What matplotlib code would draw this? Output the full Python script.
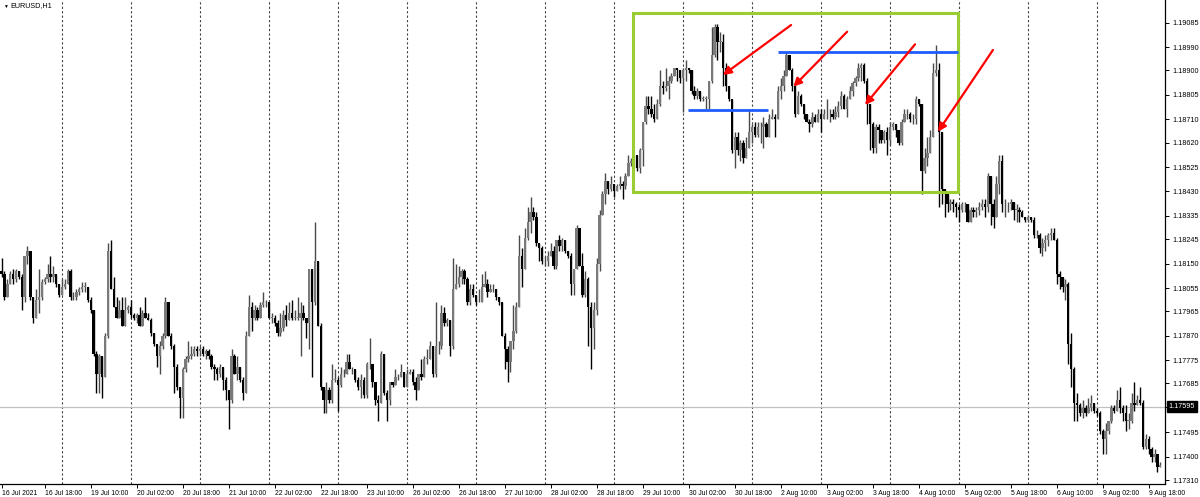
import numpy as np
import pandas as pd
import matplotlib.pyplot as plt
from matplotlib.patches import Rectangle
import matplotlib.transforms as mtransforms

plt.rcParams['font.family'] = ['Liberation Sans', 'DejaVu Sans']

# EURUSD H1 bars, 16 Jul 2021 03:00 .. 9 Aug 2021 22:00 (one row per trading day)
open0 = 1.1812
closes = [
    1.1811, 1.1802, 1.1807, 1.1811, 1.1809, 1.1812, 1.1810, 1.1802, 1.1818, 1.1820, 1.1802, 1.1794, 1.1801, 1.1802, 1.1808, 1.1809, 1.1811, 1.1810, 1.1811, 1.1807, 1.1803,
    1.1806, 1.1807, 1.1812, 1.1802, 1.1802, 1.1804, 1.1805, 1.1806, 1.1806, 1.1801, 1.1797, 1.1780, 1.1772, 1.1779, 1.1771, 1.1787, 1.1820, 1.1805, 1.1798, 1.1794, 1.1797, 1.1791, 1.1797, 1.1798,
    1.1795, 1.1794, 1.1795, 1.1791, 1.1796, 1.1794, 1.1793, 1.1788, 1.1784, 1.1779, 1.1783, 1.1787, 1.1800, 1.1787, 1.1783, 1.1775, 1.1767, 1.1763, 1.1774, 1.1778, 1.1779, 1.1780, 1.1782, 1.1781,
    1.1782, 1.1780, 1.1781, 1.1779, 1.1775, 1.1774, 1.1772, 1.1775, 1.1770, 1.1766, 1.1762, 1.1779, 1.1772, 1.1775, 1.1770, 1.1765, 1.1787, 1.1798, 1.1794, 1.1797, 1.1794, 1.1799, 1.1800, 1.1800,
    1.1794, 1.1794, 1.1792, 1.1788, 1.1790, 1.1795, 1.1793, 1.1796, 1.1794, 1.1794, 1.1794, 1.1796, 1.1794, 1.1792, 1.1813, 1.1800, 1.1816, 1.1791, 1.1767, 1.1762, 1.1766, 1.1762, 1.1770, 1.1770,
    1.1768, 1.1772, 1.1772, 1.1777, 1.1774, 1.1774, 1.1770, 1.1767, 1.1770, 1.1764, 1.1776, 1.1776, 1.1769, 1.1762, 1.1761, 1.1780, 1.1765, 1.1762, 1.1769, 1.1768, 1.1771, 1.1771, 1.1773, 1.1767,
    1.1772, 1.1773, 1.1769, 1.1766, 1.1772, 1.1771, 1.1778, 1.1778, 1.1783, 1.1772, 1.1783, 1.1783, 1.1796, 1.1792, 1.1793, 1.1783, 1.1805, 1.1807, 1.1810, 1.1812, 1.1809, 1.1800, 1.1805, 1.1803,
    1.1800, 1.1800, 1.1806, 1.1807, 1.1804, 1.1805, 1.1805, 1.1802, 1.1800, 1.1787, 1.1782, 1.1777, 1.1785, 1.1789, 1.1798, 1.1818, 1.1813, 1.1825, 1.1831, 1.1835, 1.1833, 1.1823, 1.1821, 1.1816,
    1.1816, 1.1818, 1.1820, 1.1814, 1.1824, 1.1822, 1.1824, 1.1820, 1.1818, 1.1807, 1.1813, 1.1829, 1.1814, 1.1803, 1.1809, 1.1798, 1.1790, 1.1797, 1.1815, 1.1834, 1.1842, 1.1847, 1.1844, 1.1846,
    1.1843, 1.1845, 1.1846, 1.1845, 1.1849, 1.1854, 1.1855, 1.1857, 1.1852, 1.1859, 1.1870, 1.1876, 1.1875, 1.1873, 1.1871, 1.1877, 1.1884, 1.1883, 1.1884, 1.1886, 1.1888, 1.1891, 1.1890, 1.1887,
    1.1890, 1.1891, 1.1890, 1.1882, 1.1880, 1.1882, 1.1879, 1.1879, 1.1879, 1.1886, 1.1896, 1.1907, 1.1901, 1.1901, 1.1891, 1.1884, 1.1879, 1.1859, 1.1864, 1.1859, 1.1862, 1.1856, 1.1860, 1.1866,
    1.1868, 1.1865, 1.1868, 1.1868, 1.1869, 1.1864, 1.1871, 1.1872, 1.1871, 1.1882, 1.1884, 1.1888, 1.1896, 1.1890, 1.1884, 1.1873, 1.1880, 1.1877, 1.1873, 1.1870, 1.1869, 1.1872, 1.1870, 1.1873,
    1.1871, 1.1873, 1.1873, 1.1873, 1.1872, 1.1874, 1.1876, 1.1880, 1.1875, 1.1879, 1.1882, 1.1885, 1.1887, 1.1891, 1.1892, 1.1886, 1.1877, 1.1869, 1.1860, 1.1868, 1.1867, 1.1863, 1.1866, 1.1863,
    1.1868, 1.1869, 1.1867, 1.1862, 1.1870, 1.1873, 1.1873, 1.1871, 1.1871, 1.1879, 1.1877, 1.1851, 1.1856, 1.1858, 1.1864, 1.1889, 1.1890, 1.1866, 1.1844, 1.1842, 1.1838, 1.1839, 1.1838, 1.1837,
    1.1836, 1.1838, 1.1838, 1.1831, 1.1836, 1.1835, 1.1836, 1.1837, 1.1838, 1.1837, 1.1849, 1.1838, 1.1833, 1.1846, 1.1855, 1.1838, 1.1838, 1.1838, 1.1839, 1.1836, 1.1836, 1.1835, 1.1833, 1.1832,
    1.1833, 1.1832, 1.1826, 1.1826, 1.1821, 1.1823, 1.1824, 1.1826, 1.1827, 1.1824, 1.1811, 1.1810, 1.1806, 1.1807, 1.1784, 1.1774, 1.1761, 1.1760, 1.1757, 1.1759, 1.1757, 1.1759, 1.1761, 1.1758,
    1.1757, 1.1750, 1.1747, 1.1750, 1.1754, 1.1759, 1.1758, 1.1762, 1.1759, 1.1757, 1.1754, 1.1754, 1.1761, 1.1760, 1.1762, 1.1761, 1.1744, 1.1747, 1.1743, 1.1740, 1.1741, 1.1736, 1.1737,
]
highs = [
    1.1817, 1.1812, 1.1809, 1.1812, 1.1813, 1.1813, 1.1811, 1.1811, 1.1818, 1.1822, 1.1820, 1.1802, 1.1805, 1.1813, 1.1809, 1.1810, 1.1815, 1.1818, 1.1814, 1.1811, 1.1807,
    1.1809, 1.1809, 1.1813, 1.1813, 1.1804, 1.1805, 1.1806, 1.1808, 1.1808, 1.1806, 1.1802, 1.1797, 1.1781, 1.1780, 1.1779, 1.1788, 1.1823, 1.1824, 1.1810, 1.1802, 1.1801, 1.1802, 1.1802, 1.1799,
    1.1801, 1.1796, 1.1796, 1.1798, 1.1797, 1.1802, 1.1796, 1.1794, 1.1788, 1.1784, 1.1785, 1.1788, 1.1802, 1.1800, 1.1788, 1.1784, 1.1776, 1.1767, 1.1775, 1.1779, 1.1785, 1.1783, 1.1783, 1.1783,
    1.1783, 1.1783, 1.1782, 1.1782, 1.1780, 1.1776, 1.1775, 1.1776, 1.1775, 1.1771, 1.1766, 1.1782, 1.1780, 1.1779, 1.1773, 1.1771, 1.1789, 1.1803, 1.1800, 1.1799, 1.1798, 1.1800, 1.1804, 1.1801,
    1.1800, 1.1796, 1.1795, 1.1793, 1.1796, 1.1797, 1.1799, 1.1800, 1.1801, 1.1797, 1.1802, 1.1800, 1.1799, 1.1794, 1.1813, 1.1800, 1.1831, 1.1816, 1.1792, 1.1767, 1.1769, 1.1767, 1.1776, 1.1774,
    1.1771, 1.1775, 1.1774, 1.1780, 1.1780, 1.1775, 1.1774, 1.1771, 1.1772, 1.1771, 1.1777, 1.1786, 1.1776, 1.1769, 1.1764, 1.1781, 1.1780, 1.1766, 1.1769, 1.1769, 1.1774, 1.1772, 1.1776, 1.1773,
    1.1774, 1.1774, 1.1774, 1.1771, 1.1772, 1.1778, 1.1779, 1.1782, 1.1785, 1.1783, 1.1800, 1.1785, 1.1799, 1.1798, 1.1794, 1.1793, 1.1817, 1.1815, 1.1814, 1.1813, 1.1813, 1.1810, 1.1807, 1.1807,
    1.1803, 1.1805, 1.1811, 1.1812, 1.1809, 1.1807, 1.1807, 1.1805, 1.1802, 1.1800, 1.1788, 1.1783, 1.1785, 1.1799, 1.1800, 1.1826, 1.1821, 1.1829, 1.1837, 1.1841, 1.1837, 1.1835, 1.1823, 1.1822,
    1.1818, 1.1820, 1.1823, 1.1822, 1.1824, 1.1826, 1.1825, 1.1824, 1.1820, 1.1819, 1.1813, 1.1830, 1.1829, 1.1819, 1.1812, 1.1810, 1.1800, 1.1800, 1.1817, 1.1836, 1.1843, 1.1850, 1.1847, 1.1849,
    1.1846, 1.1846, 1.1849, 1.1847, 1.1850, 1.1857, 1.1856, 1.1857, 1.1857, 1.1860, 1.1870, 1.1880, 1.1880, 1.1880, 1.1877, 1.1879, 1.1890, 1.1886, 1.1891, 1.1888, 1.1889, 1.1891, 1.1891, 1.1888,
    1.1891, 1.1894, 1.1891, 1.1890, 1.1884, 1.1883, 1.1881, 1.1880, 1.1880, 1.1886, 1.1907, 1.1908, 1.1908, 1.1905, 1.1904, 1.1893, 1.1883, 1.1879, 1.1866, 1.1866, 1.1863, 1.1863, 1.1864, 1.1875,
    1.1869, 1.1870, 1.1870, 1.1870, 1.1872, 1.1870, 1.1873, 1.1875, 1.1873, 1.1884, 1.1887, 1.1890, 1.1897, 1.1892, 1.1891, 1.1885, 1.1882, 1.1881, 1.1877, 1.1873, 1.1871, 1.1874, 1.1873, 1.1875,
    1.1875, 1.1875, 1.1879, 1.1875, 1.1875, 1.1876, 1.1878, 1.1882, 1.1881, 1.1880, 1.1884, 1.1886, 1.1888, 1.1893, 1.1893, 1.1893, 1.1887, 1.1877, 1.1870, 1.1869, 1.1869, 1.1867, 1.1867, 1.1868,
    1.1870, 1.1870, 1.1869, 1.1867, 1.1871, 1.1875, 1.1875, 1.1874, 1.1873, 1.1880, 1.1879, 1.1877, 1.1860, 1.1864, 1.1867, 1.1893, 1.1900, 1.1893, 1.1866, 1.1844, 1.1842, 1.1840, 1.1840, 1.1839,
    1.1838, 1.1839, 1.1839, 1.1838, 1.1837, 1.1837, 1.1837, 1.1839, 1.1840, 1.1840, 1.1850, 1.1848, 1.1840, 1.1849, 1.1857, 1.1857, 1.1840, 1.1839, 1.1840, 1.1839, 1.1838, 1.1837, 1.1836, 1.1833,
    1.1834, 1.1833, 1.1833, 1.1828, 1.1827, 1.1825, 1.1826, 1.1827, 1.1829, 1.1829, 1.1825, 1.1812, 1.1808, 1.1809, 1.1808, 1.1788, 1.1775, 1.1765, 1.1761, 1.1762, 1.1760, 1.1763, 1.1764, 1.1760,
    1.1759, 1.1758, 1.1751, 1.1753, 1.1754, 1.1760, 1.1760, 1.1766, 1.1767, 1.1760, 1.1760, 1.1757, 1.1765, 1.1769, 1.1764, 1.1767, 1.1762, 1.1749, 1.1748, 1.1744, 1.1743, 1.1741, 1.1738,
]
lows = [
    1.1810, 1.1801, 1.1802, 1.1807, 1.1807, 1.1808, 1.1809, 1.1797, 1.1800, 1.1815, 1.1801, 1.1792, 1.1794, 1.1796, 1.1801, 1.1807, 1.1808, 1.1808, 1.1808, 1.1806, 1.1802,
    1.1803, 1.1805, 1.1807, 1.1801, 1.1801, 1.1801, 1.1803, 1.1804, 1.1804, 1.1800, 1.1796, 1.1779, 1.1765, 1.1765, 1.1763, 1.1771, 1.1786, 1.1805, 1.1798, 1.1794, 1.1794, 1.1791, 1.1791, 1.1796,
    1.1794, 1.1793, 1.1792, 1.1791, 1.1791, 1.1794, 1.1793, 1.1787, 1.1783, 1.1775, 1.1772, 1.1782, 1.1786, 1.1787, 1.1782, 1.1765, 1.1766, 1.1755, 1.1755, 1.1773, 1.1777, 1.1778, 1.1779, 1.1779,
    1.1779, 1.1779, 1.1778, 1.1778, 1.1774, 1.1770, 1.1770, 1.1771, 1.1766, 1.1762, 1.1751, 1.1761, 1.1772, 1.1770, 1.1769, 1.1762, 1.1765, 1.1787, 1.1789, 1.1793, 1.1793, 1.1795, 1.1798, 1.1798,
    1.1794, 1.1792, 1.1791, 1.1787, 1.1787, 1.1789, 1.1791, 1.1793, 1.1793, 1.1793, 1.1793, 1.1779, 1.1793, 1.1786, 1.1782, 1.1771, 1.1799, 1.1791, 1.1766, 1.1757, 1.1757, 1.1761, 1.1761, 1.1769,
    1.1758, 1.1767, 1.1771, 1.1772, 1.1774, 1.1772, 1.1769, 1.1766, 1.1763, 1.1763, 1.1763, 1.1774, 1.1767, 1.1760, 1.1754, 1.1761, 1.1764, 1.1754, 1.1760, 1.1767, 1.1768, 1.1770, 1.1771, 1.1767,
    1.1769, 1.1772, 1.1768, 1.1762, 1.1767, 1.1770, 1.1771, 1.1776, 1.1779, 1.1771, 1.1771, 1.1780, 1.1782, 1.1791, 1.1791, 1.1779, 1.1782, 1.1805, 1.1806, 1.1807, 1.1807, 1.1799, 1.1799, 1.1802,
    1.1799, 1.1800, 1.1800, 1.1806, 1.1802, 1.1804, 1.1804, 1.1801, 1.1799, 1.1787, 1.1774, 1.1769, 1.1773, 1.1782, 1.1788, 1.1798, 1.1806, 1.1813, 1.1824, 1.1827, 1.1832, 1.1822, 1.1816, 1.1815,
    1.1814, 1.1814, 1.1818, 1.1813, 1.1813, 1.1820, 1.1820, 1.1819, 1.1817, 1.1803, 1.1803, 1.1813, 1.1814, 1.1802, 1.1802, 1.1783, 1.1774, 1.1782, 1.1795, 1.1812, 1.1834, 1.1838, 1.1842, 1.1843,
    1.1841, 1.1843, 1.1844, 1.1840, 1.1844, 1.1853, 1.1853, 1.1852, 1.1851, 1.1850, 1.1853, 1.1869, 1.1873, 1.1872, 1.1870, 1.1871, 1.1876, 1.1881, 1.1882, 1.1879, 1.1885, 1.1888, 1.1886, 1.1885,
    1.1874, 1.1886, 1.1889, 1.1881, 1.1879, 1.1879, 1.1878, 1.1878, 1.1875, 1.1875, 1.1885, 1.1895, 1.1894, 1.1897, 1.1884, 1.1882, 1.1878, 1.1858, 1.1852, 1.1857, 1.1855, 1.1854, 1.1858, 1.1860,
    1.1862, 1.1864, 1.1864, 1.1862, 1.1860, 1.1864, 1.1870, 1.1871, 1.1864, 1.1871, 1.1879, 1.1882, 1.1890, 1.1890, 1.1882, 1.1872, 1.1873, 1.1876, 1.1871, 1.1870, 1.1866, 1.1868, 1.1870, 1.1871,
    1.1866, 1.1872, 1.1871, 1.1870, 1.1871, 1.1871, 1.1872, 1.1875, 1.1875, 1.1872, 1.1879, 1.1880, 1.1884, 1.1886, 1.1886, 1.1885, 1.1869, 1.1859, 1.1858, 1.1858, 1.1862, 1.1862, 1.1862, 1.1857,
    1.1861, 1.1867, 1.1864, 1.1861, 1.1861, 1.1870, 1.1871, 1.1870, 1.1869, 1.1869, 1.1876, 1.1842, 1.1850, 1.1853, 1.1860, 1.1864, 1.1888, 1.1837, 1.1838, 1.1833, 1.1835, 1.1836, 1.1835, 1.1833,
    1.1831, 1.1835, 1.1835, 1.1831, 1.1832, 1.1833, 1.1833, 1.1834, 1.1836, 1.1833, 1.1835, 1.1830, 1.1829, 1.1833, 1.1842, 1.1835, 1.1833, 1.1835, 1.1836, 1.1832, 1.1831, 1.1831, 1.1833, 1.1831,
    1.1831, 1.1831, 1.1825, 1.1825, 1.1819, 1.1818, 1.1820, 1.1822, 1.1824, 1.1824, 1.1807, 1.1805, 1.1804, 1.1801, 1.1776, 1.1767, 1.1754, 1.1754, 1.1756, 1.1755, 1.1756, 1.1757, 1.1758, 1.1757,
    1.1756, 1.1749, 1.1741, 1.1741, 1.1749, 1.1753, 1.1757, 1.1758, 1.1757, 1.1754, 1.1750, 1.1751, 1.1753, 1.1758, 1.1760, 1.1760, 1.1743, 1.1743, 1.1741, 1.1738, 1.1738, 1.1734, 1.1736,
]

price_ticks = [1.19085, 1.18990, 1.18900, 1.18805, 1.18710, 1.18620, 1.18525, 1.18430, 1.18335,
               1.18245, 1.18150, 1.18055, 1.17965, 1.17870, 1.17775, 1.17685, 1.17595, 1.17495,
               1.17400, 1.17310]
bid_price = 1.17595

time_labels = ['2021-07-16 03:00', '2021-07-16 18:00', '2021-07-19 10:00', '2021-07-20 02:00',
               '2021-07-20 18:00', '2021-07-21 10:00', '2021-07-22 02:00', '2021-07-22 18:00',
               '2021-07-23 10:00', '2021-07-26 02:00', '2021-07-26 18:00', '2021-07-27 10:00',
               '2021-07-28 02:00', '2021-07-28 18:00', '2021-07-29 10:00', '2021-07-30 02:00',
               '2021-07-30 18:00', '2021-08-02 10:00', '2021-08-03 02:00', '2021-08-03 18:00',
               '2021-08-04 10:00', '2021-08-05 02:00', '2021-08-05 18:00', '2021-08-06 10:00',
               '2021-08-09 02:00', '2021-08-09 18:00']

# drawn objects (bar index, price)
box = (219.6, 1.18428, 332.7, 1.19123)
blue_lines = [(238.7, 266.6, 1.18746), (270.0, 332.7, 1.18971)]
arrows = [((274.6, 1.19076), (250.9, 1.18882)),
          ((294.1, 1.19050), (275.4, 1.18837)),
          ((317.7, 1.19001), (300.3, 1.18766)),
          ((344.8, 1.18979), (325.7, 1.18662))]

closes = np.array(closes)
highs = np.array(highs)
lows = np.array(lows)
assert len(closes) == len(highs) == len(lows) == 404, (len(closes), len(highs), len(lows))
opens = np.r_[open0, closes[:-1]]

times = pd.date_range('2021-07-16 03:00', '2021-08-09 23:00', freq='h')
times = times[times.weekday < 5][:len(closes)]
x = np.arange(len(closes))

fig = plt.figure(figsize=(12, 4.97), dpi=100)
ax = fig.add_axes([0, 13 / 497, 1165 / 1200, 484 / 497])
ax.set_xlim(-0.56, 404.65)
ax.set_ylim(1.17295, 1.19173)

# day separators
for pos in x[times.hour == 0]:
    ax.axvline(pos, color='#444444', lw=0.8, linestyle=(0, (2, 2)), zorder=1)

ax.axhline(bid_price, color='#c0c0c0', lw=0.9, zorder=1)

# candles
up = closes >= opens
top = np.maximum(highs, np.maximum(opens, closes))
bot = np.minimum(lows, np.minimum(opens, closes))
body_b = np.minimum(opens, closes)
body_h = np.maximum(np.abs(closes - opens), 0.00002)
bull, bear = '#7a7a7a', '#000000'
ax.vlines(x[up], bot[up], top[up], color='#4a4a4a', lw=1.0, zorder=2)
ax.vlines(x[~up], bot[~up], top[~up], color=bear, lw=1.0, zorder=2)
ax.bar(x[up], body_h[up], bottom=body_b[up], width=0.82, color=bull, lw=0, zorder=3)
ax.bar(x[~up], body_h[~up], bottom=body_b[~up], width=0.82, color=bear, lw=0, zorder=3)

# analysis objects
x0, y0, x1, y1 = box
ax.add_patch(Rectangle((x0, y0), x1 - x0, y1 - y0, fill=False, ec='#9acd32', lw=2.2, zorder=4))
for xa, xb, yv in blue_lines:
    ax.plot([xa, xb], [yv, yv], color='#1f5cff', lw=2.0, zorder=4, solid_capstyle='butt')
for tail, head in arrows:
    ax.annotate('', xy=head, xytext=tail,
                arrowprops=dict(arrowstyle='-|>', color='#ff0000', lw=1.6,
                                mutation_scale=12, shrinkA=0, shrinkB=0), zorder=5)

# axes styling
for s in ['top', 'left']:
    ax.spines[s].set_visible(False)
for s in ['bottom', 'right']:
    ax.spines[s].set_color('black')
    ax.spines[s].set_linewidth(0.9)

ax.yaxis.tick_right()
ax.set_yticks(price_ticks)
# the bid label box replaces the regular tick label at the bid price
ax.set_yticklabels(['' if p == bid_price else f'{p:.5f}' for p in price_ticks])
ax.tick_params(axis='y', direction='out', length=3, width=0.7, labelsize=5.2, pad=2)

tpos = [int(np.where(times == pd.Timestamp(t))[0][0]) for t in time_labels]
tlab = []
for t in time_labels:
    ts = pd.Timestamp(t)
    if t == time_labels[0]:
        tlab.append(f'{ts.day} {ts:%b %Y}')
    else:
        tlab.append(f'{ts.day} {ts:%b %H:%M}')
ax.set_xticks(tpos)
ax.set_xticklabels(tlab, ha='left')
ax.tick_params(axis='x', direction='out', length=3, width=0.7, labelsize=4.9, pad=1)

# current bid label
trans = mtransforms.blended_transform_factory(ax.transAxes, ax.transData)
ax.text(1.003, bid_price, f'{bid_price:.5f}', transform=trans, ha='left', va='center',
        fontsize=5.2, color='white',
        bbox=dict(boxstyle='square,pad=0.25', fc='black', ec='black'), zorder=6)

fig.text(3 / 1200, 1 - 6 / 497, '\u25bc', fontsize=3.5, va='center', ha='left')
fig.text(10 / 1200, 1 - 6 / 497, 'EURUSD,H1', fontsize=5.2, va='center', ha='left')

fig.savefig('out.png', dpi=100)
